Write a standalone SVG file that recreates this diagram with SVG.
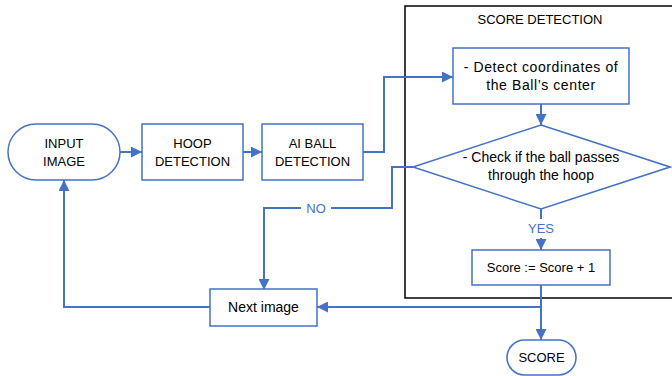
<svg xmlns="http://www.w3.org/2000/svg" width="672" height="376" viewBox="0 0 672 376">
<style>
.n{fill:#fff;stroke:#4472C4;stroke-width:1.5}
.t{font-family:"Liberation Sans",Arial,sans-serif;font-size:13px;fill:#000;text-anchor:middle}
.s{font-size:14px}
.c{fill:none;stroke:#4472C4;stroke-width:2}
.l{font-family:"Liberation Sans",Arial,sans-serif;font-size:13px;fill:#4472C4;text-anchor:middle}
</style>
<defs>
<marker id="a" viewBox="0 0 10 10" refX="10" refY="5" markerWidth="5.5" markerHeight="5.5" orient="auto" markerUnits="strokeWidth">
<path d="M0,0 L10,5 L0,10 z" fill="#4472C4"/>
</marker>
</defs>
<g id="score-detection-frame">
<rect x="405" y="6" width="280" height="292" fill="none" stroke="#000" stroke-width="1.5"/>
<text class="t" x="540" y="24">SCORE DETECTION</text>
</g>
<g id="connectors">
<path class="c" d="M120,152 H142" marker-end="url(#a)"/>
<path class="c" d="M243,152 H262" marker-end="url(#a)"/>
<path class="c" d="M363,152 H384 V77 H453" marker-end="url(#a)"/>
<path class="c" d="M541,104 V125" marker-end="url(#a)"/>
<path class="c" d="M413,167 H392 V208 H331 M301,208 H264 V290" marker-end="url(#a)"/>
<text class="l" x="316" y="213">NO</text>
<path class="c" d="M541,209 V219 M541,238 V250" marker-end="url(#a)"/>
<text class="l" x="541" y="233">YES</text>
<path class="c" d="M541,285 V340" marker-end="url(#a)"/>
<path class="c" d="M541,307 H317" marker-end="url(#a)"/>
<path class="c" d="M210,307 H64 V180" marker-end="url(#a)"/>
</g>
<g id="input-image">
<rect class="n" x="8" y="124" width="112" height="56" rx="28"/>
<text class="t" x="64" y="148">INPUT</text>
<text class="t" x="64" y="166">IMAGE</text>
</g>
<g id="hoop-detection">
<rect class="n" x="142" y="124" width="101" height="56"/>
<text class="t" x="192.5" y="148">HOOP</text>
<text class="t" x="192.5" y="166">DETECTION</text>
</g>
<g id="ai-ball-detection">
<rect class="n" x="262" y="124" width="101" height="56"/>
<text class="t" x="312.5" y="148">AI BALL</text>
<text class="t" x="312.5" y="166">DETECTION</text>
</g>
<g id="detect-coordinates">
<rect class="n" x="453" y="48" width="176" height="56"/>
<text class="t s" x="541" y="72" letter-spacing="0.6">- Detect coordinates of</text>
<text class="t s" x="541" y="90" letter-spacing="0.6">the Ball’s center</text>
</g>
<g id="check-ball">
<polygon class="n" points="541,125 670,167 541,209 413,167"/>
<text class="t s" x="541" y="162">- Check if the ball passes</text>
<text class="t s" x="541" y="180">through the hoop</text>
</g>
<g id="score-increment">
<rect class="n" x="472" y="250" width="138" height="35"/>
<text class="t" x="541" y="272">Score := Score + 1</text>
</g>
<g id="next-image">
<rect class="n" x="210" y="289" width="107" height="37"/>
<text class="t s" x="263.5" y="312">Next image</text>
</g>
<g id="score">
<rect class="n" x="507" y="340" width="69" height="35" rx="17.5"/>
<text class="t" x="541.5" y="362">SCORE</text>
</g>
</svg>
